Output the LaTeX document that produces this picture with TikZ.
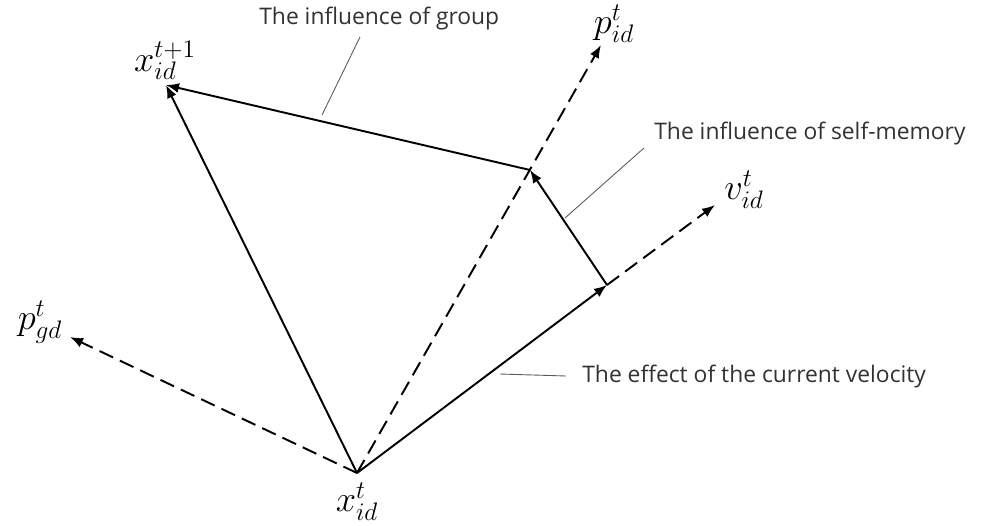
\documentclass[tikz,border=0pt]{standalone}
\usepackage{fontspec}
\setmainfont{Open Sans}
\usetikzlibrary{arrows.meta,positioning}
\definecolor{txtcol}{RGB}{50,50,50}

\begin{document}
\begin{tikzpicture}[x=0.02cm,y=-0.02cm,
  font=\fontsize{13}{15}\selectfont,
  vec/.style={line width=1.1pt,-{Latex[length=2.6mm,width=2mm]}},
  dir/.style={vec,dash pattern=on 3mm off 1.5mm},
  lead/.style={draw=black!65,line width=0.5pt},
  note/.style={anchor=west,text=txtcol,inner sep=0pt},
  sym/.style={font=\fontsize{21}{25}\selectfont,inner sep=0pt}]
\useasboundingbox (0,0) rectangle (990,525);
% points of the construction
\coordinate (o) at (357,473);
\coordinate (xnew) at (166,85);
\coordinate (pid) at (601,45);
\coordinate (pgd) at (70,337);
\coordinate (corner) at (607,285);
\coordinate (mem) at (530,170);
\coordinate (vid) at (715,205);
% symbols
\node[sym] (lxnew) at (165,60) {$x_{id}^{t+1}$};
\node[sym] (lpid) at (614,24) {$p_{id}^{t}$};
\node[sym] (lvid) at (744,190) {$v_{id}^{t}$};
\node[sym] (lpgd) at (40,322) {$p_{gd}^{t}$};
\node[sym] (lx) at (357,502) {$x_{id}^{t}$};
% vectors
\draw[dir] (o) -- (pgd);
\draw[dir] (o) -- (pid);
\draw[dir] (corner) -- (vid);
\draw[vec] (o) -- (corner);
\draw[vec] (corner) -- (mem);
\draw[vec] (mem) -- (xnew);
\draw[vec] (o) -- (xnew);
% notes
\node[note] (grp) at (259,18) {The influence of group};
\node[note] (self) at (654,133) {The influence of self-memory};
\node[note] (cur) at (582,376) {The effect of the current velocity};
\coordinate (grpa) at (360,37);
\coordinate (grpb) at (322,115);
\coordinate (selfa) at (644,148);
\coordinate (selfb) at (565,218);
\coordinate (cura) at (500,374);
\draw[lead] (grpa) -- (grpb);
\draw[lead] (selfa) -- (selfb);
\draw[lead] (cura) -- ([xshift=-9pt]cur.west);
\end{tikzpicture}
\end{document}
